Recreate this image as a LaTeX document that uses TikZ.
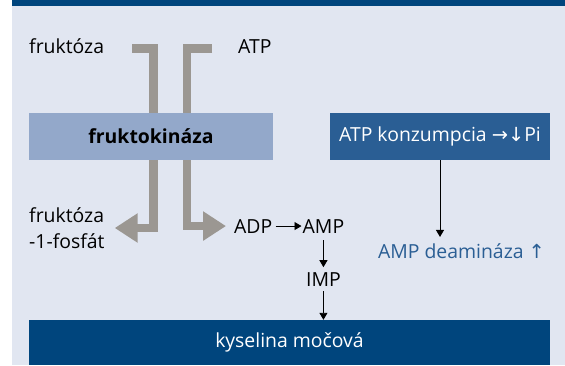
\documentclass[tikz,border=0pt]{standalone}
\usepackage{fontspec}
\setmainfont{Open Sans}
\newfontfamily\arrowfont{DejaVu Sans}
\usepackage{xcolor}
\usetikzlibrary{positioning,arrows.meta}
\definecolor{darkblue}{HTML}{00457D}
\definecolor{midblue}{HTML}{2A5E94}
\definecolor{paleblue}{HTML}{93A8CA}
\definecolor{bgblue}{HTML}{E1E6F1}
\definecolor{bargray}{HTML}{9B9792}

\begin{document}
\begin{tikzpicture}[x=1pt,y=-1pt,font=\fontsize{19.4}{26}\selectfont,
                    every node/.style={inner sep=0pt},
                    thin arrow/.style={-{Triangle[length=7pt,width=8pt]},line width=0.9pt},
                    bar/.style={draw=bargray,line width=8.5pt,-{Triangle[length=23pt,width=28pt]}},
                    enzyme/.style={fill=paleblue,minimum height=47pt},
                    darkbox/.style={fill=#1,text=white,minimum height=47pt}]
  \useasboundingbox (0,0) rectangle (565,365);
  \fill[bgblue] (12,0) rectangle (565,365);
  \fill[darkblue] (12,0) rectangle (565,6);

  \node[anchor=base west]             (fru)  at (29,53)      {fruktóza};
  \node[anchor=base west]             (atp)  at (238,53)     {ATP};
  \node[anchor=west,align=left]       (f1p)  at (29,228)     {fruktóza\\-1-fosfát};
  \node[anchor=base west]             (adp)  at (234,233)    {ADP};
  \node[right=30pt of adp]            (amp)                  {AMP};
  \node[below=39pt of amp]            (imp)                  {IMP};
  \node[anchor=base,text=midblue]     (deam) at (461.5,258)  {AMP deamináza {\arrowfont ↑}};

  \coordinate (fin)  at (132,48.5);
  \coordinate (atpin) at (212,48.5);
  \coordinate (lcol) at (153.5,0);
  \coordinate (rcol) at (187,0);
  \draw[bar] (fin) -| (lcol |- f1p.east) -- ([xshift=10pt]f1p.east);
  \draw[bar] (atpin) -| (rcol |- adp) -- ([xshift=-8pt]adp.west);

  \node[enzyme,minimum width=244pt]      (fk)   at (151,136.5)   {\bfseries fruktokináza};
  \node[darkbox=midblue,minimum width=220pt] (atpk) at (440,136.5) {ATP konzumpcia {\arrowfont →↓}Pi};
  \node[darkbox=darkblue,minimum width=521pt,minimum height=45pt] (uric) at (289.5,342.5) {kyselina močová};

  \draw[thin arrow,shorten <=3pt,shorten >=1pt] (adp) -- (amp);
  \draw[thin arrow,shorten <=7pt,shorten >=5pt] (amp) -- (imp);
  \draw[thin arrow,shorten <=5pt] (imp) -- (imp |- uric.north);
  \draw[thin arrow,shorten >=6pt] (atpk) -- (atpk.south |- deam.north);
\end{tikzpicture}
\end{document}
